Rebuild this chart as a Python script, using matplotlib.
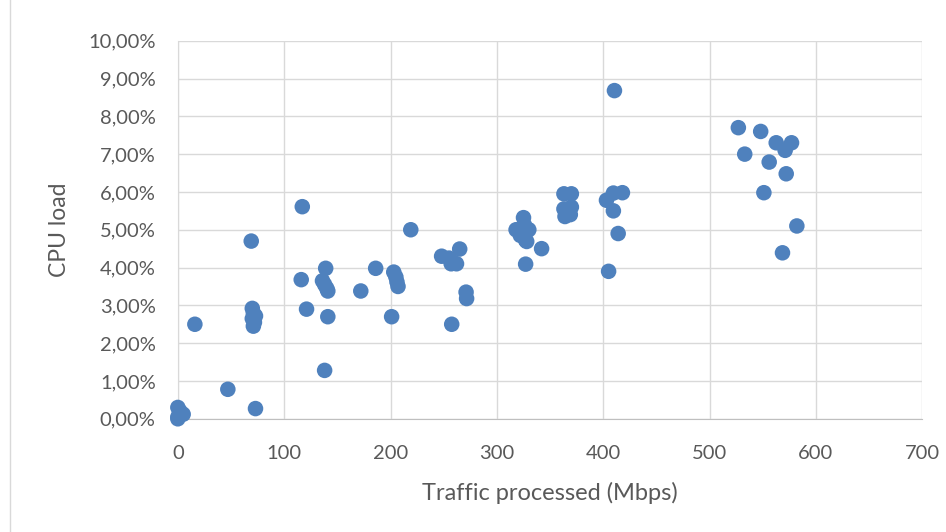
import matplotlib
matplotlib.use("Agg")
import matplotlib.pyplot as plt
from matplotlib.ticker import FuncFormatter
from matplotlib.lines import Line2D

traffic = [0, 0, 2, 5, 0, 16, 47, 73, 69,
           70, 71, 70, 72, 71, 73,
           117, 116, 121, 136, 138, 140, 141, 139, 141, 138,
           172, 186, 201, 203, 205, 206, 207, 219,
           248, 255, 258, 262, 265, 257, 271, 271.5, 257.5,
           318, 325, 322, 327, 330, 326, 328, 342, 327,
           363, 370, 363, 370, 364, 369, 366,
           403, 409.5, 418, 409.5, 410.5, 414, 405,
           527, 548, 562.6, 577, 571, 533, 556, 572, 551, 582, 568.5]
cpu = [0.3, 0.0, 0.2, 0.12, 0.05, 2.5, 0.78, 0.27, 4.7,
       2.92, 2.8, 2.65, 2.55, 2.45, 2.72,
       5.61, 3.68, 2.9, 3.65, 3.55, 3.45, 3.38, 3.98, 2.7, 1.28,
       3.38, 3.98, 2.7, 3.88, 3.75, 3.62, 3.5, 5.0,
       4.3, 4.25, 4.15, 4.1, 4.49, 4.1, 3.35, 3.18, 2.5,
       5.0, 5.32, 4.85, 4.72, 5.0, 5.12, 4.69, 4.5, 4.09,
       5.95, 5.95, 5.55, 5.6, 5.35, 5.4, 5.45,
       5.78, 5.97, 5.98, 5.5, 8.68, 4.9, 3.9,
       7.7, 7.6, 7.3, 7.3, 7.1, 7.0, 6.79, 6.48, 5.98, 5.1, 4.39]

x_ticks = [0, 100, 200, 300, 400, 500, 600, 700]
y_ticks = [0, 1, 2, 3, 4, 5, 6, 7, 8, 9, 10]

plt.rcParams['font.family'] = ['Lato', 'DejaVu Sans']

fig = plt.figure(figsize=(9.46, 5.32), dpi=100)
ax = fig.add_axes([0.188, 0.2128, 0.787, 0.7107])

ax.scatter(traffic, cpu, s=125, color='#4F81BD', edgecolors='none', zorder=3, clip_on=False)

ax.set_xlim(0, 700)
ax.set_ylim(0, 10)
ax.set_xticks(x_ticks)
ax.set_yticks(y_ticks)
ax.yaxis.set_major_formatter(FuncFormatter(lambda v, p: f"{v:.2f}".replace('.', ',') + "%"))
ax.grid(True, color='#D9D9D9', linewidth=1)
ax.set_axisbelow(True)
for s in ['top', 'right']:
    ax.spines[s].set_visible(False)
ax.spines['left'].set_color('#D9D9D9')
ax.spines['bottom'].set_color('#BFBFBF')
ax.tick_params(length=0, labelsize=14.5, colors='#595959')
ax.tick_params(axis='x', pad=19)
ax.tick_params(axis='y', pad=16)
ax.set_xlabel('Traffic processed (Mbps)', fontsize=17, color='#595959')
ax.set_ylabel('CPU load', fontsize=16.5, color='#595959')
ax.xaxis.label.set_va('center')
ax.yaxis.label.set_va('center')
ax.xaxis.set_label_coords(0.5, (418.8 - 493) / 378.1)
ax.yaxis.set_label_coords((60 - 178) / 744.5, 0.5)

fig.add_artist(Line2D([10 / 946, 10 / 946], [0, 1], color='#D9D9D9', linewidth=1))

fig.savefig('out.png', dpi=100)
